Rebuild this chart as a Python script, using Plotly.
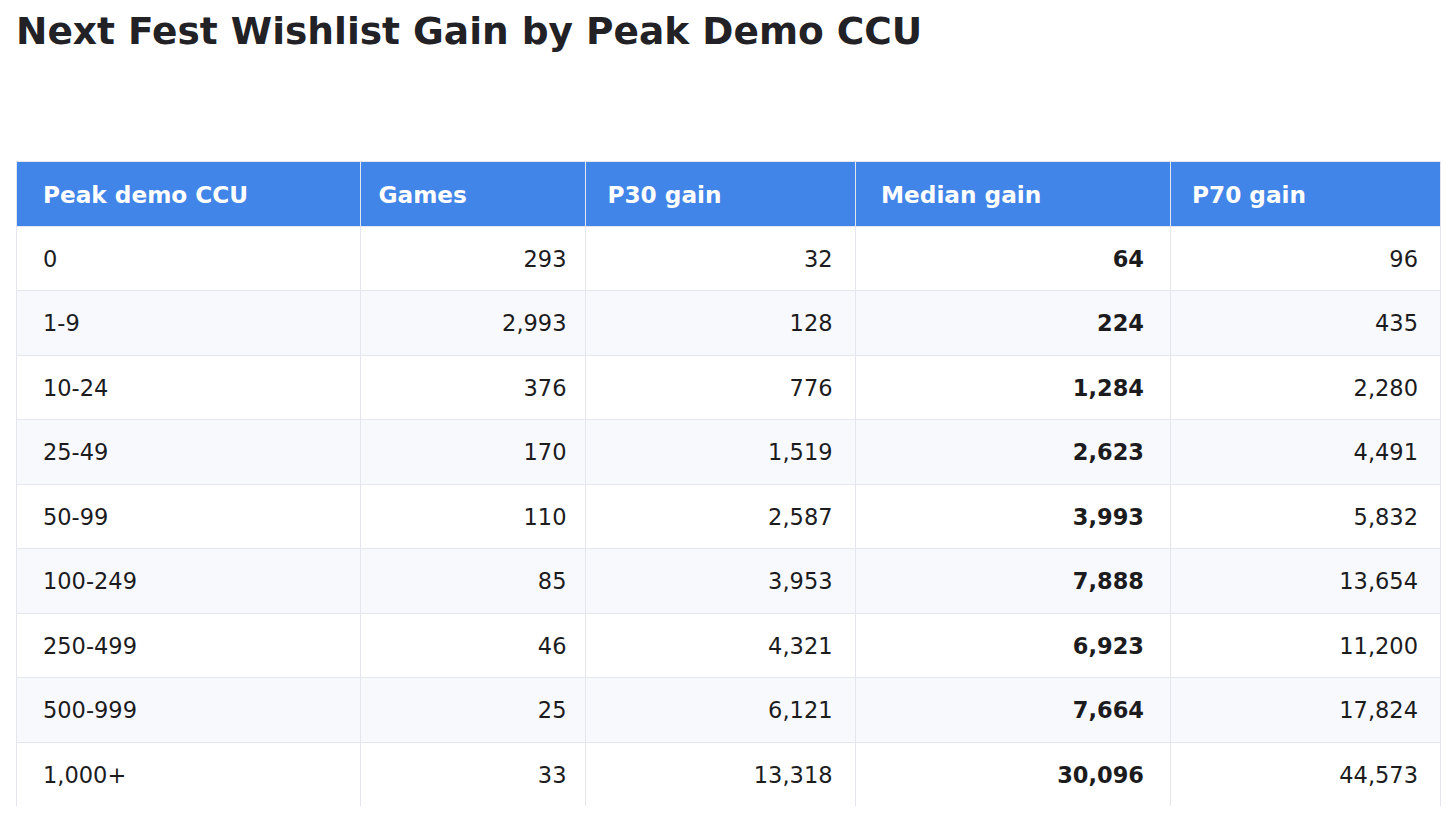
import plotly.graph_objects as go

# 表格数据
headers = ["Peak demo CCU", "Games", "P30 gain", "Median gain", "P70 gain"]
ccu_bins = ["0", "1-9", "10-24", "25-49", "50-99", "100-249", "250-499", "500-999", "1,000+"]
games = [293, 2993, 376, 170, 110, 85, 46, 25, 33]
p30_gain = [32, 128, 776, 1519, 2587, 3953, 4321, 6121, 13318]
median_gain = [64, 224, 1284, 2623, 3993, 7888, 6923, 7664, 30096]
p70_gain = [96, 435, 2280, 4491, 5832, 13654, 11200, 17824, 44573]

# 每列额外的水平内边距（px）
col_pad = [19, 10.5, 14.5, 18, 14]
NB = "\u00a0"
TEXT_SIZE = 22.5
HEAD_SIZE = 23.2


def pad(px):
    # 用三个不换行空格撑出指定宽度
    return f'<span style="font-size:{px / 3 / 0.318:.1f}px">{NB * 3}</span>'


def big(s, bold=False, size=TEXT_SIZE):
    s = f"<b>{s}</b>" if bold else s
    return f'<span style="font-size:{size}px">{s}</span>'


def col_cells(vals, i, bold=False, left=False):
    out = []
    for v in vals:
        s = v if isinstance(v, str) else f"{v:,}"
        body = big(s, bold)
        body = pad(col_pad[i]) + body if left else body + pad(col_pad[i])
        # 第一行占位，用于把文字往下推到行中间
        out.append(NB + "<br>" + body)
    return out


# 交替行背景
row_fill = ["#ffffff" if i % 2 == 0 else "#f8f9fd" for i in range(len(ccu_bins))]

fig = go.Figure()
fig.add_trace(
    go.Table(
        columnwidth=[344, 225, 270, 315, 270],
        header=dict(
            values=[NB + "<br>" + pad(col_pad[i]) + big(h, bold=True, size=HEAD_SIZE)
                    for i, h in enumerate(headers)],
            fill_color="#4285e8",
            font=dict(family="DejaVu Sans", size=15, color="white"),
            align="left",
            height=65,
            line=dict(color="#e3e6ec", width=1),
        ),
        cells=dict(
            values=[
                col_cells(ccu_bins, 0, left=True),
                col_cells(games, 1),
                col_cells(p30_gain, 2),
                col_cells(median_gain, 3, bold=True),
                col_cells(p70_gain, 4),
            ],
            fill_color=[row_fill] * 5,
            font=dict(family="DejaVu Sans", size=14.6, color="#1c1c1e"),
            align=["left", "right", "right", "right", "right"],
            height=64.5,
            line=dict(color="#e3e6ec", width=1),
        ),
    )
)

fig.update_layout(
    title=dict(
        text="<b>Next Fest Wishlist Gain by Peak Demo CCU</b>",
        x=0,
        xref="paper",
        y=1 - 23 / 806,
        yanchor="middle",
        font=dict(family="DejaVu Sans", size=37.5, color="#222226"),
    ),
    width=1440,
    height=806,
    margin=dict(l=8, r=8, t=153, b=8),
    paper_bgcolor="white",
)

fig.write_html("out.html")
